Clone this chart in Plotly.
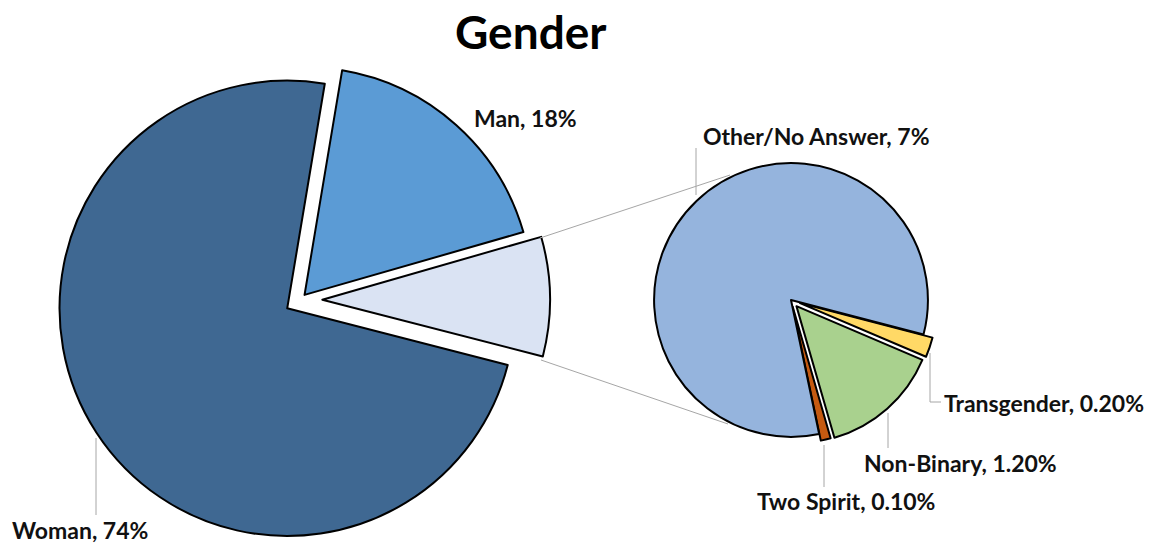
import plotly.graph_objects as go

W, H = 1156, 546
OFF = 8  # page body margin of the written html

# Data
main_labels = ["Man", "Other", "Woman"]
main_values = [18, 8.5, 74]
main_colors = ["#5B9BD5", "#DAE3F3", "#3F6892"]
main_pull = [0.03, 0.098, 0.067]

sub_labels = ["Transgender", "Non-Binary", "Two Spirit", "Other/No Answer"]
sub_values = [0.2, 1.2, 0.1, 7]
sub_text = ["Transgender, 0.20%", "Non-Binary, 1.20%", "Two Spirit, 0.10%", "Other/No Answer, 7%"]
sub_colors = ["#FFD966", "#A9D18E", "#C55A11", "#95B4DD"]
sub_pull = [0.07, 0.06, 0.05, 0.0]


def px(x):
    return (x - OFF) / W


def py(y):
    return 1 - (y - OFF) / H


fig = go.Figure()

# Main pie: centre (300, 300) on the page, radius ~228
mc, mh = (300, 300), 250
fig.add_trace(go.Pie(
    labels=main_labels, values=main_values, sort=False, direction="clockwise",
    rotation=9.5, pull=main_pull, textinfo="none", hoverinfo="label+percent",
    marker=dict(colors=main_colors, line=dict(color="black", width=2)),
    domain=dict(x=[px(mc[0] - mh), px(mc[0] + mh)], y=[py(mc[1] + mh), py(mc[1] - mh)]),
    showlegend=False,
))

# Secondary pie: centre (791, 300), radius ~137
sc, sh = (791, 300), 146.5
fig.add_trace(go.Pie(
    labels=sub_labels, values=sub_values, sort=False, direction="clockwise",
    rotation=104.6, pull=sub_pull, textinfo="none", hoverinfo="label+value",
    marker=dict(colors=sub_colors, line=dict(color="black", width=2)),
    domain=dict(x=[px(sc[0] - sh), px(sc[0] + sh)], y=[py(sc[1] + sh), py(sc[1] - sh)]),
    showlegend=False,
))

gray = "#A6A6A6"
shapes = []


def line(x0, y0, x1, y1):
    shapes.append(dict(type="line", xref="paper", yref="paper",
                       x0=px(x0), y0=py(y0), x1=px(x1), y1=py(y1),
                       line=dict(color=gray, width=1)))


# connectors between pies
line(540, 238, 730, 175)
line(541, 360, 728, 424)
# leader lines
line(96, 438, 96, 515)
line(696, 148, 696, 195)
line(930, 353, 930, 402)
line(930, 402, 941, 402)
line(888, 413, 888, 448)
line(824, 445, 824, 487)

font = dict(family="Lato, Open Sans, sans-serif", size=23, color="#111111")
annotations = []


def label(text, x, y, anchor="left"):
    annotations.append(dict(text="<b>%s</b>" % text, xref="paper", yref="paper",
                            x=px(x - 2), y=py(y), xanchor=anchor, yanchor="middle",
                            showarrow=False, font=font))


label("Man, 18%", 474, 118)
label("Woman, 74%", 12, 530)
label(sub_text[3], 703, 136)
label(sub_text[0], 944, 403)
label(sub_text[1], 864, 463)
label(sub_text[2], 757, 501)

annotations.append(dict(text="<b>Gender</b>", xref="paper", yref="paper",
                        x=px(530), y=py(32), xanchor="center", yanchor="middle",
                        showarrow=False,
                        font=dict(family="Lato, Open Sans, sans-serif", size=46, color="#000000")))

fig.update_layout(
    width=W, height=H, margin=dict(l=0, r=0, t=0, b=0),
    paper_bgcolor="white", plot_bgcolor="white",
    shapes=shapes, annotations=annotations,
)

fig.write_html("out.html")
